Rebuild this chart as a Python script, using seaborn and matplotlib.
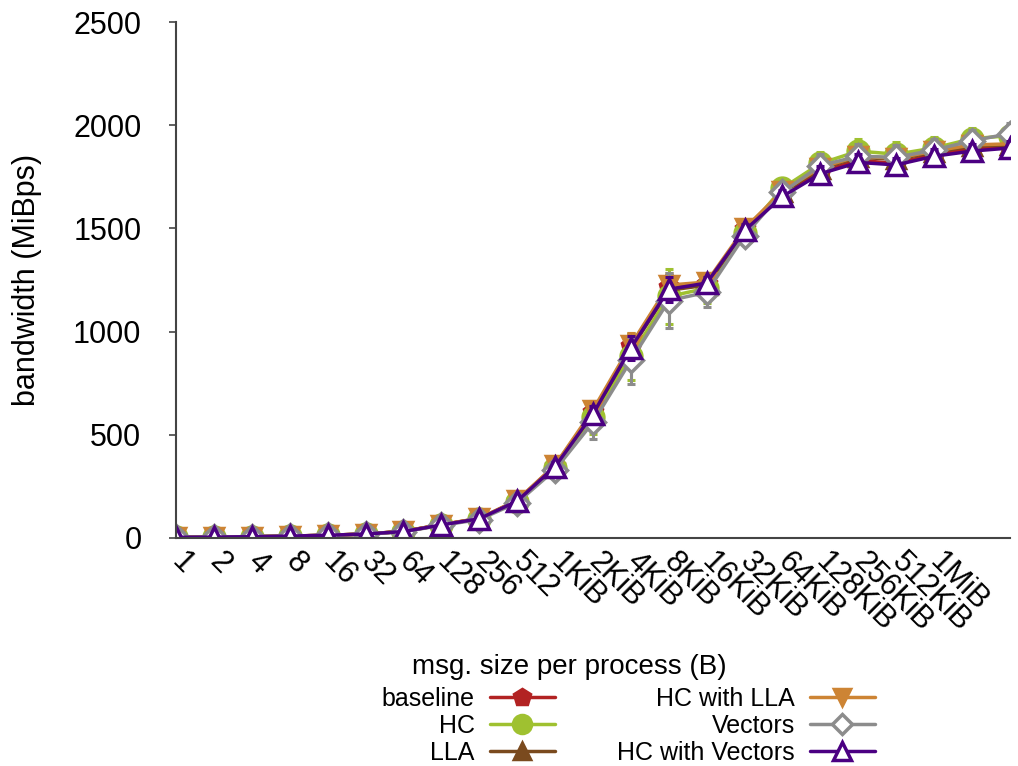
import numpy as np
import pandas as pd
import seaborn as sns
import matplotlib.pyplot as plt
from matplotlib.lines import Line2D

sizes = ['1', '2', '4', '8', '16', '32', '64', '128', '256', '512', '1KiB', '2KiB', '4KiB', '8KiB',
         '16KiB', '32KiB', '64KiB', '128KiB', '256KiB', '512KiB', '1MiB', '2MiB', '4MiB']
tick_labels = sizes[:21]

series_names = ['baseline', 'HC', 'LLA', 'HC with LLA', 'Vectors', 'HC with Vectors']

baseline = [2, 3, 5, 8, 12, 18, 31, 63, 93, 180, 350, 610, 930, 1215, 1230, 1495, 1665, 1775, 1830, 1815, 1860, 1885, 1895]
hc = [2, 3, 5, 8, 12, 18, 30, 62, 92, 175, 340, 585, 880, 1170, 1210, 1480, 1695, 1815, 1875, 1860, 1890, 1935, 1950]
lla = [2, 3, 5, 8, 12, 18, 31, 63, 93, 178, 345, 605, 915, 1200, 1225, 1490, 1675, 1790, 1845, 1835, 1870, 1900, 1905]
hc_lla = [2, 3, 5, 8, 12, 18, 31, 64, 94, 182, 352, 620, 935, 1225, 1240, 1500, 1680, 1795, 1850, 1840, 1875, 1905, 1910]
vectors = [2, 3, 5, 8, 12, 17, 29, 60, 88, 170, 330, 560, 860, 1150, 1190, 1465, 1675, 1805, 1850, 1845, 1880, 1925, 1960]
hc_vectors = [2, 3, 5, 8, 12, 18, 30, 62, 92, 178, 345, 600, 920, 1205, 1235, 1490, 1655, 1765, 1820, 1808, 1850, 1875, 1890]

err_small = [1, 1, 1, 1, 1, 2, 3, 5, 8, 12, 20, 40, 60, 60, 30, 30, 30, 40, 40, 35, 35, 35, 35]
err_large = [1, 1, 1, 1, 1, 2, 3, 5, 8, 15, 30, 80, 115, 135, 70, 40, 45, 55, 60, 60, 55, 50, 50]

values = [baseline, hc, lla, hc_lla, vectors, hc_vectors]
errors = [err_small, err_large, err_small, err_small, err_large, err_small]
colors = ['#b22222', '#9fc130', '#7a4a1e', '#cd8434', '#8c8c8c', '#4b0082']
markers = ['p', 'o', '^', 'v', 'D', '^']
filled = [True, True, True, True, False, False]
msizes = [14, 15, 13, 13, 12, 15]

sns.set_style('ticks')
plt.rcParams['font.family'] = ['Liberation Sans', 'DejaVu Sans']
plt.rcParams['text.color'] = 'black'
plt.rcParams['axes.labelcolor'] = 'black'
plt.rcParams['xtick.color'] = 'black'
plt.rcParams['ytick.color'] = 'black'

fig, ax = plt.subplots(figsize=(10.18, 7.66), dpi=100)
fig.subplots_adjust(left=0.173, right=0.992, top=0.971, bottom=0.298)

x = np.arange(len(sizes))
for name, vals, err, col, mk, fill, ms in zip(series_names, values, errors, colors, markers, filled, msizes):
    ax.errorbar(x, vals, yerr=err, fmt='none', ecolor=col, elinewidth=2.2, capsize=3, capthick=2.2)
    df = pd.DataFrame({'x': x, 'y': vals})
    sns.lineplot(data=df, x='x', y='y', ax=ax, color=col, linewidth=2.5, marker=mk, ms=ms,
                 mfc=col if fill else 'white', mec=col, mew=2.5)

ax.set_xlim(0, 22)
ax.set_ylim(0, 2500)
ax.set_yticks([0, 500, 1000, 1500, 2000, 2500])
ax.set_xticks(np.arange(len(tick_labels)))
ax.set_xticklabels(tick_labels, rotation=-45, ha='left', va='center', rotation_mode='anchor')
ax.tick_params(axis='x', length=0, pad=14, labelsize=22)
ax.tick_params(axis='y', length=5, width=1.2, color='#444444', pad=20, labelsize=22)
sns.despine(ax=ax)
for sp in ['left', 'bottom']:
    ax.spines[sp].set_color('#444444')
    ax.spines[sp].set_linewidth(1.5)

ax.set_ylabel('bandwidth (MiBps)', fontsize=22, labelpad=22)
ax.set_xlabel('msg. size per process (B)', fontsize=20)
ax.xaxis.set_label_coords(0.472, -0.25)
ax.xaxis.label.set_va('center')

handles = []
for col, mk, fill, ms in zip(colors, markers, filled, msizes):
    handles.append(Line2D([], [], color=col, linewidth=2.5, marker=mk, ms=ms - 2,
                          mfc=col if fill else 'white', mec=col, mew=2.5))
leg = fig.legend(handles, series_names, loc='upper center', bbox_to_anchor=(0.617, 0.12), ncol=2,
                 frameon=False, markerfirst=False, fontsize=18, handlelength=2.6, handletextpad=0.6,
                 columnspacing=2.5, labelspacing=0.13, borderpad=0)

fig.savefig('out.png', dpi=100)
